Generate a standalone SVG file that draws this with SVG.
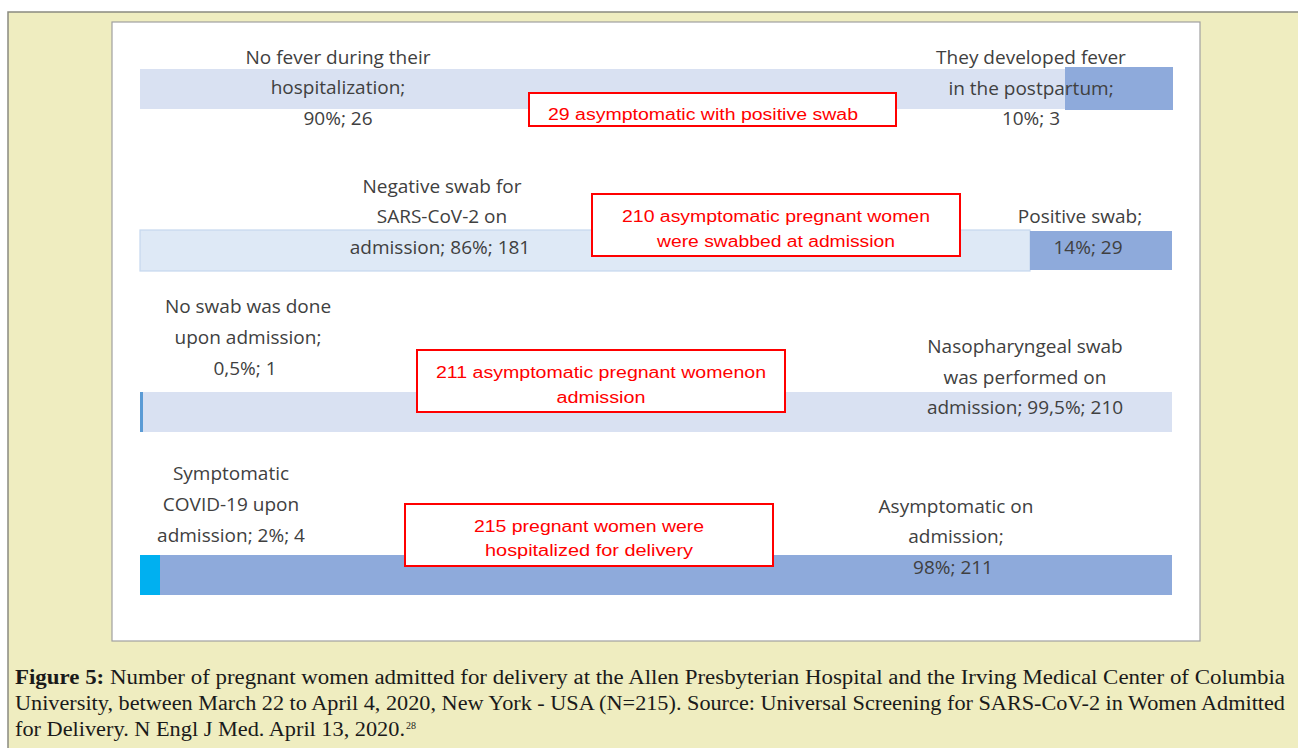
<svg xmlns="http://www.w3.org/2000/svg" width="1298" height="748" viewBox="0 0 1298 748">
<style>
.lbl{font-family:"Open Sans","Liberation Sans",Arial,sans-serif;font-size:19px;fill:#404040;text-anchor:middle}
.red{font-family:"Liberation Sans",Arial,sans-serif;font-size:16px;fill:#ff0000;text-anchor:middle}
.rbox{fill:#ffffff;stroke:#ff0000;stroke-width:2}
.cap{font-family:"Liberation Serif","Times New Roman",serif;font-size:20px;fill:#1a1a1a}
.sup{font-family:"Liberation Serif","Times New Roman",serif;font-size:10px;fill:#1a1a1a}
</style>
<rect x="0" y="0" width="1298" height="748" fill="#ffffff"/>
<rect x="8" y="12" width="1300" height="750" fill="#efedc0" stroke="#8a8a80" stroke-width="1.5"/>
<rect x="112" y="22" width="1088" height="619" fill="#ffffff" stroke="#a0a0a0" stroke-width="1.2"/>

<g id="row1">
<rect x="140" y="69" width="925" height="40" fill="#d9e1f2"/>
<rect x="1065" y="67" width="108" height="43" fill="#8eaadb"/>
<text class="lbl" x="338" y="64">No fever during their</text>
<text class="lbl" x="338" y="94">hospitalization;</text>
<text class="lbl" x="338" y="125">90%; 26</text>
<text class="lbl" x="1031" y="64">They developed fever</text>
<text class="lbl" x="1031" y="95">in the postpartum;</text>
<text class="lbl" x="1031" y="125">10%; 3</text>
</g>
<g id="box1">
<rect class="rbox" x="529" y="93" width="367" height="33"/>
<text class="red" x="703" y="120" textLength="310" lengthAdjust="spacingAndGlyphs">29 asymptomatic with positive swab</text>
</g>

<g id="row2">
<rect x="140" y="230" width="890" height="41" fill="#dee9f6" stroke="#c5d8ef" stroke-width="1.2"/>
<rect x="1030" y="231" width="142" height="39" fill="#8eaadb"/>
<text class="lbl" x="442" y="193">Negative swab for</text>
<text class="lbl" x="442" y="223">SARS-CoV-2  on</text>
<text class="lbl" x="440" y="254">admission; 86%; 181</text>
<text class="lbl" x="1080" y="223">Positive swab;</text>
<text class="lbl" x="1088" y="254">14%; 29</text>
</g>
<g id="box2">
<rect class="rbox" x="592" y="194" width="368" height="62"/>
<text class="red" x="776" y="222" textLength="308" lengthAdjust="spacingAndGlyphs">210 asymptomatic pregnant women</text>
<text class="red" x="776" y="247" textLength="238" lengthAdjust="spacingAndGlyphs">were swabbed at admission</text>
</g>

<g id="row3">
<rect x="140" y="392" width="1032" height="40" fill="#d9e1f2"/>
<rect x="140" y="392" width="3" height="40" fill="#5b9bd5"/>
<text class="lbl" x="248" y="313">No swab was done</text>
<text class="lbl" x="248" y="344">upon admission;</text>
<text class="lbl" x="245" y="375">0,5%; 1</text>
<text class="lbl" x="1025" y="353">Nasopharyngeal swab</text>
<text class="lbl" x="1025" y="384">was performed  on</text>
<text class="lbl" x="1025" y="414">admission; 99,5%; 210</text>
</g>
<g id="box3">
<rect class="rbox" x="417" y="350" width="368" height="62"/>
<text class="red" x="601" y="378" textLength="330" lengthAdjust="spacingAndGlyphs">211 asymptomatic pregnant womenon</text>
<text class="red" x="601" y="403" textLength="89" lengthAdjust="spacingAndGlyphs">admission</text>
</g>

<g id="row4">
<rect x="140" y="555" width="1032" height="40" fill="#8eaadb"/>
<rect x="140" y="555" width="20" height="40" fill="#00b0f0"/>
<text class="lbl" x="231" y="480">Symptomatic</text>
<text class="lbl" x="231" y="511">COVID-19 upon</text>
<text class="lbl" x="231" y="542">admission; 2%; 4</text>
<text class="lbl" x="956" y="513">Asymptomatic on</text>
<text class="lbl" x="956" y="543">admission;</text>
<text class="lbl" x="953" y="574">98%; 211</text>
</g>
<g id="box4">
<rect class="rbox" x="405" y="504" width="368" height="62"/>
<text class="red" x="589" y="532" textLength="230" lengthAdjust="spacingAndGlyphs">215 pregnant women were</text>
<text class="red" x="589" y="556" textLength="208" lengthAdjust="spacingAndGlyphs">hospitalized for delivery</text>
</g>

<g id="caption">
<text class="cap" x="15" y="684" textLength="1270" lengthAdjust="spacingAndGlyphs"><tspan font-weight="bold">Figure 5:</tspan> Number of pregnant women admitted for delivery at the Allen Presbyterian Hospital and the Irving Medical Center of Columbia</text>
<text class="cap" x="15" y="710" textLength="1270" lengthAdjust="spacingAndGlyphs">University, between March 22 to April 4, 2020, New York - USA (N=215). Source: Universal Screening for SARS-CoV-2 in Women Admitted</text>
<text class="cap" x="15" y="736" textLength="390" lengthAdjust="spacingAndGlyphs">for Delivery. N Engl J Med. April 13, 2020.</text>
<text class="sup" x="406" y="729">28</text>
</g>
</svg>
